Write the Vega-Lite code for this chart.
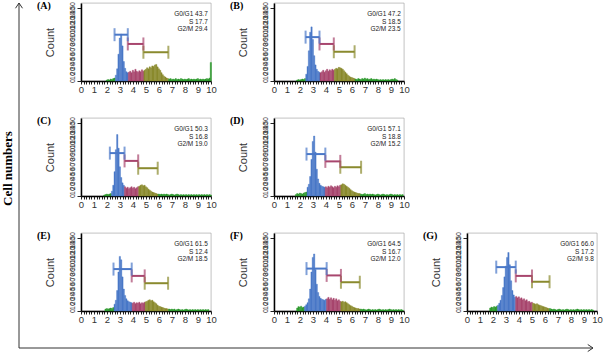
{
"$schema":"https://vega.github.io/schema/vega-lite/v6.json",
"background":"white",
"padding":{"left":1,"top":0,"right":0,"bottom":0},
"config":{
 "view":{"stroke":"#999","strokeWidth":0.6},
 "axis":{"grid":false,"domainColor":"#000","domainWidth":1.5,"tickColor":"#222","labelFont":"Liberation Sans","labelColor":"#333","titleFont":"Liberation Sans","titleFontWeight":"normal","titleColor":"#333"},
 "axisX":{"labelFontSize":9.5,"labelPadding":0,"tickSize":3,"labelFlush":false,"labelOverlap":false,"labelBound":false},
 "axisY":{"labels":false,"tickSize":4,"tickWidth":1,"titleFontSize":11,"titleX":-26},
 "text":{"font":"Liberation Sans"},
 "title":{"anchor":"start","frame":"group","font":"Liberation Serif","fontWeight":"bold","fontSize":10,"color":"#000","dx":-44,"dy":13,"offset":0,"baseline":"middle"}
},
"datasets":{
"ylab":[{"v":0},{"v":10},{"v":20},{"v":30},{"v":40},{"v":50},{"v":60},{"v":70},{"v":80},{"v":90},{"v":100},{"v":110},{"v":120},{"v":130},{"v":140},{"v":150}],
"A":[{"x":1.95,"c":2,"g":"o"},{"x":2.05,"c":3,"g":"o"},{"x":2.15,"c":2,"g":"o"},{"x":2.25,"c":4,"g":"o"},{"x":2.35,"c":3,"g":"o"},{"x":2.45,"c":5,"g":"o"},{"x":2.55,"c":6,"g":"o"},
{"x":2.65,"c":12,"g":"g1"},{"x":2.75,"c":25,"g":"g1"},{"x":2.85,"c":55,"g":"g1"},{"x":2.95,"c":88,"g":"g1"},{"x":3.05,"c":96,"g":"g1"},{"x":3.15,"c":72,"g":"g1"},{"x":3.25,"c":40,"g":"g1"},{"x":3.35,"c":26,"g":"g1"},{"x":3.45,"c":19,"g":"g1"},{"x":3.55,"c":17,"g":"g1"},
{"x":3.65,"c":18,"g":"s"},{"x":3.75,"c":20,"g":"s"},{"x":3.85,"c":17,"g":"s"},{"x":3.95,"c":22,"g":"s"},{"x":4.05,"c":19,"g":"s"},{"x":4.15,"c":24,"g":"s"},{"x":4.25,"c":20,"g":"s"},{"x":4.35,"c":18,"g":"s"},{"x":4.45,"c":21,"g":"s"},{"x":4.55,"c":19,"g":"s"},{"x":4.65,"c":23,"g":"s"},{"x":4.75,"c":20,"g":"s"},
{"x":4.85,"c":22,"g":"g2"},{"x":4.95,"c":24,"g":"g2"},{"x":5.05,"c":27,"g":"g2"},{"x":5.15,"c":25,"g":"g2"},{"x":5.25,"c":29,"g":"g2"},{"x":5.35,"c":27,"g":"g2"},{"x":5.45,"c":31,"g":"g2"},{"x":5.55,"c":30,"g":"g2"},{"x":5.65,"c":33,"g":"g2"},{"x":5.75,"c":34,"g":"g2"},{"x":5.85,"c":29,"g":"g2"},{"x":5.95,"c":25,"g":"g2"},{"x":6.05,"c":22,"g":"g2"},{"x":6.15,"c":17,"g":"g2"},{"x":6.25,"c":13,"g":"g2"},{"x":6.35,"c":10,"g":"g2"},{"x":6.45,"c":8,"g":"g2"},{"x":6.55,"c":6,"g":"g2"},{"x":6.65,"c":5,"g":"g2"},
{"x":6.75,"c":4,"g":"o"},{"x":6.85,"c":5,"g":"o"},{"x":6.95,"c":3,"g":"o"},{"x":7.05,"c":4,"g":"o"},{"x":7.15,"c":3,"g":"o"},{"x":7.25,"c":5,"g":"o"},{"x":7.35,"c":3,"g":"o"},{"x":7.45,"c":4,"g":"o"},{"x":7.55,"c":3,"g":"o"},{"x":7.65,"c":5,"g":"o"},{"x":7.75,"c":4,"g":"o"},{"x":7.85,"c":3,"g":"o"},{"x":7.95,"c":4,"g":"o"},{"x":8.05,"c":3,"g":"o"},{"x":8.15,"c":4,"g":"o"},{"x":8.25,"c":5,"g":"o"},{"x":8.35,"c":3,"g":"o"},{"x":8.45,"c":4,"g":"o"},{"x":8.55,"c":3,"g":"o"},{"x":8.65,"c":4,"g":"o"},{"x":8.75,"c":3,"g":"o"},{"x":8.85,"c":4,"g":"o"},{"x":8.95,"c":5,"g":"o"},{"x":9.05,"c":3,"g":"o"},{"x":9.15,"c":4,"g":"o"},{"x":9.25,"c":3,"g":"o"},{"x":9.35,"c":4,"g":"o"},{"x":9.45,"c":3,"g":"o"},{"x":9.55,"c":4,"g":"o"},{"x":9.65,"c":5,"g":"o"},{"x":9.75,"c":4,"g":"o"},{"x":9.85,"c":6,"g":"o"},{"x":9.95,"c":38,"g":"o"}],
"B":[{"x":1.75,"c":2,"g":"o"},{"x":1.85,"c":3,"g":"o"},{"x":1.95,"c":2,"g":"o"},{"x":2.05,"c":3,"g":"o"},{"x":2.15,"c":4,"g":"o"},{"x":2.25,"c":3,"g":"o"},{"x":2.35,"c":5,"g":"o"},
{"x":2.45,"c":14,"g":"g1"},{"x":2.55,"c":30,"g":"g1"},{"x":2.65,"c":62,"g":"g1"},{"x":2.75,"c":100,"g":"g1"},{"x":2.85,"c":111,"g":"g1"},{"x":2.95,"c":85,"g":"g1"},{"x":3.05,"c":52,"g":"g1"},{"x":3.15,"c":33,"g":"g1"},{"x":3.25,"c":24,"g":"g1"},{"x":3.35,"c":20,"g":"g1"},{"x":3.45,"c":18,"g":"g1"},
{"x":3.55,"c":17,"g":"s"},{"x":3.65,"c":19,"g":"s"},{"x":3.75,"c":22,"g":"s"},{"x":3.85,"c":18,"g":"s"},{"x":3.95,"c":21,"g":"s"},{"x":4.05,"c":24,"g":"s"},{"x":4.15,"c":20,"g":"s"},{"x":4.25,"c":23,"g":"s"},{"x":4.35,"c":21,"g":"s"},{"x":4.45,"c":24,"g":"s"},{"x":4.55,"c":22,"g":"s"},
{"x":4.65,"c":24,"g":"g2"},{"x":4.75,"c":26,"g":"g2"},{"x":4.85,"c":25,"g":"g2"},{"x":4.95,"c":28,"g":"g2"},{"x":5.05,"c":27,"g":"g2"},{"x":5.15,"c":26,"g":"g2"},{"x":5.25,"c":24,"g":"g2"},{"x":5.35,"c":21,"g":"g2"},{"x":5.45,"c":18,"g":"g2"},{"x":5.55,"c":15,"g":"g2"},{"x":5.65,"c":12,"g":"g2"},{"x":5.75,"c":10,"g":"g2"},{"x":5.85,"c":8,"g":"g2"},{"x":5.95,"c":7,"g":"g2"},{"x":6.05,"c":6,"g":"g2"},{"x":6.15,"c":5,"g":"g2"},
{"x":6.25,"c":4,"g":"o"},{"x":6.35,"c":3,"g":"o"},{"x":6.45,"c":5,"g":"o"},{"x":6.55,"c":4,"g":"o"},{"x":6.65,"c":3,"g":"o"},{"x":6.75,"c":5,"g":"o"},{"x":6.85,"c":4,"g":"o"},{"x":6.95,"c":6,"g":"o"},{"x":7.05,"c":4,"g":"o"},{"x":7.15,"c":5,"g":"o"},{"x":7.25,"c":3,"g":"o"},{"x":7.35,"c":4,"g":"o"},{"x":7.45,"c":5,"g":"o"},{"x":7.55,"c":3,"g":"o"},{"x":7.65,"c":4,"g":"o"},{"x":7.75,"c":3,"g":"o"},{"x":7.85,"c":4,"g":"o"},{"x":7.95,"c":3,"g":"o"},{"x":8.05,"c":2,"g":"o"},{"x":8.15,"c":3,"g":"o"},{"x":8.25,"c":2,"g":"o"},{"x":8.35,"c":3,"g":"o"},{"x":8.45,"c":2,"g":"o"},{"x":8.55,"c":3,"g":"o"},{"x":8.65,"c":2,"g":"o"},{"x":8.75,"c":3,"g":"o"},{"x":8.85,"c":2,"g":"o"},{"x":8.95,"c":3,"g":"o"},{"x":9.05,"c":4,"g":"o"},{"x":9.15,"c":3,"g":"o"},{"x":9.25,"c":5,"g":"o"},{"x":9.35,"c":3,"g":"o"},{"x":9.45,"c":2,"g":"o"}],
"C":[{"x":1.75,"c":2,"g":"o"},{"x":1.85,"c":3,"g":"o"},{"x":1.95,"c":4,"g":"o"},{"x":2.05,"c":3,"g":"o"},{"x":2.15,"c":4,"g":"o"},{"x":2.25,"c":5,"g":"o"},
{"x":2.35,"c":10,"g":"g1"},{"x":2.45,"c":22,"g":"g1"},{"x":2.55,"c":50,"g":"g1"},{"x":2.65,"c":95,"g":"g1"},{"x":2.75,"c":126,"g":"g1"},{"x":2.85,"c":98,"g":"g1"},{"x":2.95,"c":60,"g":"g1"},{"x":3.05,"c":38,"g":"g1"},{"x":3.15,"c":27,"g":"g1"},{"x":3.25,"c":22,"g":"g1"},
{"x":3.35,"c":19,"g":"s"},{"x":3.45,"c":16,"g":"s"},{"x":3.55,"c":18,"g":"s"},{"x":3.65,"c":15,"g":"s"},{"x":3.75,"c":17,"g":"s"},{"x":3.85,"c":19,"g":"s"},{"x":3.95,"c":16,"g":"s"},{"x":4.05,"c":18,"g":"s"},{"x":4.15,"c":15,"g":"s"},{"x":4.25,"c":17,"g":"s"},{"x":4.35,"c":19,"g":"s"},
{"x":4.45,"c":20,"g":"g2"},{"x":4.55,"c":22,"g":"g2"},{"x":4.65,"c":23,"g":"g2"},{"x":4.75,"c":21,"g":"g2"},{"x":4.85,"c":22,"g":"g2"},{"x":4.95,"c":19,"g":"g2"},{"x":5.05,"c":17,"g":"g2"},{"x":5.15,"c":14,"g":"g2"},{"x":5.25,"c":12,"g":"g2"},{"x":5.35,"c":10,"g":"g2"},{"x":5.45,"c":8,"g":"g2"},{"x":5.55,"c":7,"g":"g2"},{"x":5.65,"c":6,"g":"g2"},{"x":5.75,"c":5,"g":"g2"},{"x":5.85,"c":4,"g":"g2"},
{"x":5.95,"c":4,"g":"o"},{"x":6.05,"c":3,"g":"o"},{"x":6.15,"c":4,"g":"o"},{"x":6.25,"c":3,"g":"o"},{"x":6.35,"c":4,"g":"o"},{"x":6.45,"c":3,"g":"o"},{"x":6.55,"c":4,"g":"o"},{"x":6.65,"c":3,"g":"o"},{"x":6.75,"c":2,"g":"o"},{"x":6.85,"c":3,"g":"o"},{"x":6.95,"c":4,"g":"o"},{"x":7.05,"c":3,"g":"o"},{"x":7.15,"c":2,"g":"o"},{"x":7.25,"c":3,"g":"o"},{"x":7.35,"c":4,"g":"o"},{"x":7.45,"c":3,"g":"o"},{"x":7.55,"c":2,"g":"o"},{"x":7.65,"c":3,"g":"o"},{"x":7.75,"c":2,"g":"o"},{"x":7.85,"c":3,"g":"o"},{"x":7.95,"c":2,"g":"o"},{"x":8.05,"c":3,"g":"o"},{"x":8.15,"c":2,"g":"o"},{"x":8.25,"c":3,"g":"o"},{"x":8.35,"c":2,"g":"o"},{"x":8.45,"c":3,"g":"o"},{"x":8.55,"c":2,"g":"o"},{"x":8.65,"c":3,"g":"o"},{"x":8.75,"c":2,"g":"o"},{"x":8.85,"c":3,"g":"o"},{"x":8.95,"c":2,"g":"o"},{"x":9.05,"c":3,"g":"o"},{"x":9.15,"c":2,"g":"o"},{"x":9.25,"c":3,"g":"o"},{"x":9.35,"c":2,"g":"o"},{"x":9.45,"c":3,"g":"o"},{"x":9.55,"c":2,"g":"o"},{"x":9.65,"c":3,"g":"o"},{"x":9.75,"c":2,"g":"o"},{"x":9.85,"c":3,"g":"o"},{"x":9.95,"c":2,"g":"o"}],
"D":[{"x":1.65,"c":3,"g":"o"},{"x":1.75,"c":5,"g":"o"},{"x":1.85,"c":4,"g":"o"},{"x":1.95,"c":6,"g":"o"},{"x":2.05,"c":5,"g":"o"},{"x":2.15,"c":4,"g":"o"},{"x":2.25,"c":6,"g":"o"},{"x":2.35,"c":7,"g":"o"},{"x":2.45,"c":8,"g":"o"},
{"x":2.55,"c":18,"g":"g1"},{"x":2.65,"c":24,"g":"g1"},{"x":2.75,"c":40,"g":"g1"},{"x":2.85,"c":75,"g":"g1"},{"x":2.95,"c":112,"g":"g1"},{"x":3.05,"c":123,"g":"g1"},{"x":3.15,"c":90,"g":"g1"},{"x":3.25,"c":55,"g":"g1"},{"x":3.35,"c":35,"g":"g1"},{"x":3.45,"c":26,"g":"g1"},{"x":3.55,"c":22,"g":"g1"},{"x":3.65,"c":20,"g":"g1"},{"x":3.75,"c":19,"g":"g1"},{"x":3.85,"c":18,"g":"g1"},
{"x":3.95,"c":19,"g":"s"},{"x":4.05,"c":17,"g":"s"},{"x":4.15,"c":20,"g":"s"},{"x":4.25,"c":18,"g":"s"},{"x":4.35,"c":21,"g":"s"},{"x":4.45,"c":19,"g":"s"},{"x":4.55,"c":17,"g":"s"},{"x":4.65,"c":20,"g":"s"},{"x":4.75,"c":18,"g":"s"},{"x":4.85,"c":21,"g":"s"},{"x":4.95,"c":19,"g":"s"},{"x":5.05,"c":22,"g":"s"},
{"x":5.15,"c":23,"g":"g2"},{"x":5.25,"c":25,"g":"g2"},{"x":5.35,"c":24,"g":"g2"},{"x":5.45,"c":22,"g":"g2"},{"x":5.55,"c":20,"g":"g2"},{"x":5.65,"c":18,"g":"g2"},{"x":5.75,"c":16,"g":"g2"},{"x":5.85,"c":13,"g":"g2"},{"x":5.95,"c":11,"g":"g2"},{"x":6.05,"c":9,"g":"g2"},{"x":6.15,"c":8,"g":"g2"},{"x":6.25,"c":7,"g":"g2"},{"x":6.35,"c":6,"g":"g2"},{"x":6.45,"c":5,"g":"g2"},{"x":6.55,"c":5,"g":"g2"},
{"x":6.65,"c":4,"g":"o"},{"x":6.75,"c":3,"g":"o"},{"x":6.85,"c":4,"g":"o"},{"x":6.95,"c":5,"g":"o"},{"x":7.05,"c":3,"g":"o"},{"x":7.15,"c":4,"g":"o"},{"x":7.25,"c":3,"g":"o"},{"x":7.35,"c":4,"g":"o"},{"x":7.45,"c":3,"g":"o"},{"x":7.55,"c":4,"g":"o"},{"x":7.65,"c":3,"g":"o"},{"x":7.75,"c":2,"g":"o"},{"x":7.85,"c":3,"g":"o"},{"x":7.95,"c":4,"g":"o"},{"x":8.05,"c":3,"g":"o"},{"x":8.15,"c":2,"g":"o"},{"x":8.25,"c":3,"g":"o"},{"x":8.35,"c":4,"g":"o"},{"x":8.45,"c":3,"g":"o"},{"x":8.55,"c":2,"g":"o"},{"x":8.65,"c":3,"g":"o"},{"x":8.75,"c":2,"g":"o"},{"x":8.85,"c":3,"g":"o"},{"x":8.95,"c":4,"g":"o"},{"x":9.05,"c":3,"g":"o"},{"x":9.15,"c":2,"g":"o"},{"x":9.25,"c":3,"g":"o"},{"x":9.35,"c":2,"g":"o"},{"x":9.45,"c":3,"g":"o"},{"x":9.55,"c":2,"g":"o"},{"x":9.65,"c":3,"g":"o"},{"x":9.75,"c":2,"g":"o"},{"x":9.85,"c":3,"g":"o"}],
"E":[{"x":1.85,"c":4,"g":"o"},{"x":1.95,"c":5,"g":"o"},{"x":2.05,"c":4,"g":"o"},{"x":2.15,"c":5,"g":"o"},{"x":2.25,"c":6,"g":"o"},{"x":2.35,"c":5,"g":"o"},{"x":2.45,"c":7,"g":"o"},
{"x":2.55,"c":14,"g":"g1"},{"x":2.65,"c":22,"g":"g1"},{"x":2.75,"c":42,"g":"g1"},{"x":2.85,"c":80,"g":"g1"},{"x":2.95,"c":112,"g":"g1"},{"x":3.05,"c":105,"g":"g1"},{"x":3.15,"c":70,"g":"g1"},{"x":3.25,"c":45,"g":"g1"},{"x":3.35,"c":32,"g":"g1"},{"x":3.45,"c":25,"g":"g1"},{"x":3.55,"c":21,"g":"g1"},{"x":3.65,"c":19,"g":"g1"},{"x":3.75,"c":18,"g":"g1"},{"x":3.85,"c":17,"g":"g1"},
{"x":3.95,"c":16,"g":"s"},{"x":4.05,"c":18,"g":"s"},{"x":4.15,"c":15,"g":"s"},{"x":4.25,"c":17,"g":"s"},{"x":4.35,"c":16,"g":"s"},{"x":4.45,"c":18,"g":"s"},{"x":4.55,"c":15,"g":"s"},{"x":4.65,"c":17,"g":"s"},{"x":4.75,"c":16,"g":"s"},{"x":4.85,"c":18,"g":"s"},
{"x":4.95,"c":19,"g":"g2"},{"x":5.05,"c":20,"g":"g2"},{"x":5.15,"c":22,"g":"g2"},{"x":5.25,"c":23,"g":"g2"},{"x":5.35,"c":21,"g":"g2"},{"x":5.45,"c":22,"g":"g2"},{"x":5.55,"c":19,"g":"g2"},{"x":5.65,"c":17,"g":"g2"},{"x":5.75,"c":15,"g":"g2"},{"x":5.85,"c":12,"g":"g2"},{"x":5.95,"c":10,"g":"g2"},{"x":6.05,"c":9,"g":"g2"},{"x":6.15,"c":8,"g":"g2"},{"x":6.25,"c":7,"g":"g2"},{"x":6.35,"c":6,"g":"g2"},{"x":6.45,"c":5,"g":"g2"},{"x":6.55,"c":5,"g":"g2"},{"x":6.65,"c":4,"g":"g2"},
{"x":6.75,"c":4,"g":"o"},{"x":6.85,"c":3,"g":"o"},{"x":6.95,"c":4,"g":"o"},{"x":7.05,"c":3,"g":"o"},{"x":7.15,"c":4,"g":"o"},{"x":7.25,"c":2,"g":"o"},{"x":7.35,"c":3,"g":"o"},{"x":7.45,"c":4,"g":"o"},{"x":7.55,"c":3,"g":"o"},{"x":7.65,"c":2,"g":"o"},{"x":7.75,"c":3,"g":"o"},{"x":7.85,"c":2,"g":"o"},{"x":7.95,"c":3,"g":"o"},{"x":8.05,"c":4,"g":"o"},{"x":8.15,"c":3,"g":"o"},{"x":8.25,"c":2,"g":"o"},{"x":8.35,"c":3,"g":"o"},{"x":8.45,"c":2,"g":"o"},{"x":8.55,"c":3,"g":"o"},{"x":8.65,"c":2,"g":"o"},{"x":8.75,"c":3,"g":"o"},{"x":8.85,"c":2,"g":"o"},{"x":8.95,"c":3,"g":"o"},{"x":9.05,"c":2,"g":"o"},{"x":9.15,"c":3,"g":"o"},{"x":9.25,"c":2,"g":"o"},{"x":9.35,"c":3,"g":"o"},{"x":9.45,"c":2,"g":"o"},{"x":9.55,"c":3,"g":"o"},{"x":9.65,"c":2,"g":"o"},{"x":9.75,"c":3,"g":"o"}],
"F":[{"x":1.75,"c":6,"g":"o"},{"x":1.85,"c":9,"g":"o"},{"x":1.95,"c":8,"g":"o"},{"x":2.05,"c":10,"g":"o"},{"x":2.15,"c":7,"g":"o"},{"x":2.25,"c":8,"g":"o"},
{"x":2.35,"c":10,"g":"g1"},{"x":2.45,"c":13,"g":"g1"},{"x":2.55,"c":17,"g":"g1"},{"x":2.65,"c":25,"g":"g1"},{"x":2.75,"c":45,"g":"g1"},{"x":2.85,"c":80,"g":"g1"},{"x":2.95,"c":110,"g":"g1"},{"x":3.05,"c":117,"g":"g1"},{"x":3.15,"c":85,"g":"g1"},{"x":3.25,"c":55,"g":"g1"},{"x":3.35,"c":38,"g":"g1"},{"x":3.45,"c":30,"g":"g1"},{"x":3.55,"c":26,"g":"g1"},{"x":3.65,"c":24,"g":"g1"},{"x":3.75,"c":23,"g":"g1"},{"x":3.85,"c":22,"g":"g1"},{"x":3.95,"c":24,"g":"g1"},
{"x":4.05,"c":25,"g":"s"},{"x":4.15,"c":28,"g":"s"},{"x":4.25,"c":24,"g":"s"},{"x":4.35,"c":27,"g":"s"},{"x":4.45,"c":23,"g":"s"},{"x":4.55,"c":26,"g":"s"},{"x":4.65,"c":22,"g":"s"},{"x":4.75,"c":25,"g":"s"},{"x":4.85,"c":21,"g":"s"},{"x":4.95,"c":23,"g":"s"},{"x":5.05,"c":20,"g":"s"},
{"x":5.15,"c":19,"g":"g2"},{"x":5.25,"c":20,"g":"g2"},{"x":5.35,"c":18,"g":"g2"},{"x":5.45,"c":19,"g":"g2"},{"x":5.55,"c":17,"g":"g2"},{"x":5.65,"c":15,"g":"g2"},{"x":5.75,"c":13,"g":"g2"},{"x":5.85,"c":11,"g":"g2"},{"x":5.95,"c":10,"g":"g2"},{"x":6.05,"c":8,"g":"g2"},{"x":6.15,"c":7,"g":"g2"},{"x":6.25,"c":6,"g":"g2"},{"x":6.35,"c":5,"g":"g2"},{"x":6.45,"c":5,"g":"g2"},{"x":6.55,"c":4,"g":"g2"},
{"x":6.65,"c":4,"g":"o"},{"x":6.75,"c":3,"g":"o"},{"x":6.85,"c":4,"g":"o"},{"x":6.95,"c":3,"g":"o"},{"x":7.05,"c":2,"g":"o"},{"x":7.15,"c":3,"g":"o"},{"x":7.25,"c":4,"g":"o"},{"x":7.35,"c":3,"g":"o"},{"x":7.45,"c":2,"g":"o"},{"x":7.55,"c":3,"g":"o"},{"x":7.65,"c":2,"g":"o"},{"x":7.75,"c":3,"g":"o"},{"x":7.85,"c":2,"g":"o"},{"x":7.95,"c":3,"g":"o"},{"x":8.05,"c":4,"g":"o"},{"x":8.15,"c":3,"g":"o"},{"x":8.25,"c":2,"g":"o"},{"x":8.35,"c":3,"g":"o"},{"x":8.45,"c":2,"g":"o"},{"x":8.55,"c":3,"g":"o"},{"x":8.65,"c":2,"g":"o"},{"x":8.75,"c":3,"g":"o"},{"x":8.85,"c":4,"g":"o"},{"x":8.95,"c":3,"g":"o"},{"x":9.05,"c":2,"g":"o"},{"x":9.15,"c":3,"g":"o"},{"x":9.25,"c":2,"g":"o"},{"x":9.35,"c":3,"g":"o"},{"x":9.45,"c":2,"g":"o"},{"x":9.55,"c":3,"g":"o"},{"x":9.65,"c":2,"g":"o"},{"x":9.75,"c":3,"g":"o"},{"x":9.85,"c":2,"g":"o"}],
"G":[{"x":1.75,"c":6,"g":"o"},{"x":1.85,"c":8,"g":"o"},{"x":1.95,"c":7,"g":"o"},{"x":2.05,"c":9,"g":"o"},{"x":2.15,"c":8,"g":"o"},{"x":2.25,"c":10,"g":"o"},
{"x":2.35,"c":12,"g":"g1"},{"x":2.45,"c":16,"g":"g1"},{"x":2.55,"c":22,"g":"g1"},{"x":2.65,"c":32,"g":"g1"},{"x":2.75,"c":48,"g":"g1"},{"x":2.85,"c":70,"g":"g1"},{"x":2.95,"c":92,"g":"g1"},{"x":3.05,"c":110,"g":"g1"},{"x":3.15,"c":120,"g":"g1"},{"x":3.25,"c":95,"g":"g1"},{"x":3.35,"c":62,"g":"g1"},{"x":3.45,"c":42,"g":"g1"},{"x":3.55,"c":33,"g":"g1"},{"x":3.65,"c":28,"g":"g1"},
{"x":3.75,"c":30,"g":"s"},{"x":3.85,"c":27,"g":"s"},{"x":3.95,"c":29,"g":"s"},{"x":4.05,"c":25,"g":"s"},{"x":4.15,"c":27,"g":"s"},{"x":4.25,"c":23,"g":"s"},{"x":4.35,"c":25,"g":"s"},{"x":4.45,"c":21,"g":"s"},{"x":4.55,"c":23,"g":"s"},{"x":4.65,"c":19,"g":"s"},{"x":4.75,"c":20,"g":"s"},{"x":4.85,"c":17,"g":"s"},{"x":4.95,"c":18,"g":"s"},
{"x":5.05,"c":16,"g":"g2"},{"x":5.15,"c":15,"g":"g2"},{"x":5.25,"c":14,"g":"g2"},{"x":5.35,"c":15,"g":"g2"},{"x":5.45,"c":13,"g":"g2"},{"x":5.55,"c":12,"g":"g2"},{"x":5.65,"c":11,"g":"g2"},{"x":5.75,"c":10,"g":"g2"},{"x":5.85,"c":9,"g":"g2"},{"x":5.95,"c":8,"g":"g2"},{"x":6.05,"c":7,"g":"g2"},{"x":6.15,"c":6,"g":"g2"},{"x":6.25,"c":5,"g":"g2"},
{"x":6.35,"c":5,"g":"o"},{"x":6.45,"c":4,"g":"o"},{"x":6.55,"c":3,"g":"o"},{"x":6.65,"c":4,"g":"o"},{"x":6.75,"c":3,"g":"o"},{"x":6.85,"c":2,"g":"o"},{"x":6.95,"c":3,"g":"o"},{"x":7.05,"c":4,"g":"o"},{"x":7.15,"c":3,"g":"o"},{"x":7.25,"c":2,"g":"o"},{"x":7.35,"c":3,"g":"o"},{"x":7.45,"c":2,"g":"o"},{"x":7.55,"c":3,"g":"o"},{"x":7.65,"c":4,"g":"o"},{"x":7.75,"c":3,"g":"o"},{"x":7.85,"c":2,"g":"o"},{"x":7.95,"c":3,"g":"o"},{"x":8.05,"c":2,"g":"o"},{"x":8.15,"c":3,"g":"o"},{"x":8.25,"c":2,"g":"o"},{"x":8.35,"c":3,"g":"o"},{"x":8.45,"c":4,"g":"o"},{"x":8.55,"c":3,"g":"o"},{"x":8.65,"c":2,"g":"o"},{"x":8.75,"c":3,"g":"o"},{"x":8.85,"c":2,"g":"o"},{"x":8.95,"c":3,"g":"o"},{"x":9.05,"c":2,"g":"o"},{"x":9.15,"c":3,"g":"o"},{"x":9.25,"c":2,"g":"o"},{"x":9.35,"c":3,"g":"o"},{"x":9.45,"c":2,"g":"o"},{"x":9.55,"c":3,"g":"o"},{"x":9.65,"c":2,"g":"o"}],
"gates":[
{"p":"A","g":"g1","a":2.58,"b":3.6,"y":95},{"p":"A","g":"s","a":3.6,"b":4.8,"y":76},{"p":"A","g":"g2","a":4.8,"b":6.72,"y":59},
{"p":"B","g":"g1","a":2.43,"b":3.5,"y":90},{"p":"B","g":"s","a":3.5,"b":4.6,"y":76},{"p":"B","g":"g2","a":4.6,"b":6.2,"y":60},
{"p":"C","g":"g1","a":2.22,"b":3.35,"y":88},{"p":"C","g":"s","a":3.35,"b":4.4,"y":72},{"p":"C","g":"g2","a":4.4,"b":5.9,"y":57},
{"p":"D","g":"g1","a":2.5,"b":3.95,"y":86},{"p":"D","g":"s","a":3.95,"b":5.1,"y":71},{"p":"D","g":"g2","a":5.1,"b":6.7,"y":59},
{"p":"E","g":"g1","a":2.5,"b":3.9,"y":86},{"p":"E","g":"s","a":3.9,"b":4.9,"y":72},{"p":"E","g":"g2","a":4.9,"b":6.7,"y":57},
{"p":"F","g":"g1","a":2.5,"b":4.05,"y":87},{"p":"F","g":"s","a":4.05,"b":5.15,"y":73},{"p":"F","g":"g2","a":5.15,"b":6.6,"y":59},
{"p":"G","g":"g1","a":2.25,"b":3.75,"y":90},{"p":"G","g":"s","a":3.75,"b":5.0,"y":72},{"p":"G","g":"g2","a":5.0,"b":6.35,"y":60}],
"labels":[
{"p":"A","t":"G0/G1 43.7","x":9.75,"y":137},{"p":"A","t":"S 17.7","x":9.75,"y":122},{"p":"A","t":"G2/M 29.4","x":9.75,"y":107},
{"p":"B","t":"G0/G1 47.2","x":9.75,"y":137},{"p":"B","t":"S 18.5","x":9.75,"y":122},{"p":"B","t":"G2/M 23.5","x":9.75,"y":107},
{"p":"C","t":"G0/G1 50.3","x":9.75,"y":137},{"p":"C","t":"S 16.8","x":9.75,"y":122},{"p":"C","t":"G2/M 19.0","x":9.75,"y":107},
{"p":"D","t":"G0/G1 57.1","x":9.75,"y":137},{"p":"D","t":"S 18.8","x":9.75,"y":122},{"p":"D","t":"G2/M 15.2","x":9.75,"y":107},
{"p":"E","t":"G0/G1 61.5","x":9.75,"y":137},{"p":"E","t":"S 12.4","x":9.75,"y":122},{"p":"E","t":"G2/M 18.5","x":9.75,"y":107},
{"p":"F","t":"G0/G1 64.5","x":9.75,"y":137},{"p":"F","t":"S 16.7","x":9.75,"y":122},{"p":"F","t":"G2/M 12.0","x":9.75,"y":107},
{"p":"G","t":"G0/G1 66.0","x":9.75,"y":137},{"p":"G","t":"S 17.2","x":9.75,"y":122},{"p":"G","t":"G2/M 9.8","x":9.75,"y":107}]
},
"vconcat":[
{"hconcat":[
 {"width":10,"height":345,"view":{"stroke":null},"layer":[
  {"data":{"values":[{"x":0,"y":0,"y2":1}]},"mark":{"type":"rule","color":"#333","strokeWidth":1},
   "encoding":{"x":{"field":"x","type":"quantitative","scale":{"domain":[0,1]},"axis":null},
    "y":{"field":"y","type":"quantitative","scale":{"domain":[0,1]},"axis":{"title":"Cell numbers","domain":false,"ticks":false,"labels":false,"titleFont":"Liberation Serif","titleFontWeight":"bold","titleFontSize":13,"titleColor":"#000","titleX":-5,"titleY":165}},
    "y2":{"field":"y2"}}},
  {"data":{"values":[{"x":0,"y":1}]},"mark":{"type":"point","shape":"M -1 1.5 L 0 0 L 1 1.5","filled":false,"size":49,"color":"#333","strokeWidth":1,"opacity":1},
   "encoding":{"x":{"field":"x","type":"quantitative"},"y":{"field":"y","type":"quantitative"}}}
 ]},
 {"vconcat":[
  {"hconcat":[
   {"width":130,"height":78,"title":"(A)","layer":[
    {"data":{"name":"A"},"mark":{"type":"bar","binSpacing":0,"strokeWidth":0.4},"encoding":{"x":{"field":"x","type":"quantitative","bin":{"extent":[0,10],"step":0.1},"scale":{"domain":[0,10]},"axis":{"title":null,"values":[0,0.2,0.4,0.6,0.8,1,1.2,1.4,1.6,1.8,2,2.2,2.4,2.6,2.8,3,3.2,3.4,3.6,3.8,4,4.2,4.4,4.6,4.8,5,5.2,5.4,5.6,5.8,6,6.2,6.4,6.6,6.8,7,7.2,7.4,7.6,7.8,8,8.2,8.4,8.6,8.8,9,9.2,9.4,9.6,9.8,10],"labelExpr":"datum.value % 1 == 0 ? format(datum.value,'d') : ''"}},"y":{"aggregate":"sum","field":"c","type":"quantitative","scale":{"domain":[0,150]},"axis":{"title":"Count","values":[0,5,10,15,20,25,30,35,40,45,50,55,60,65,70,75,80,85,90,95,100,105,110,115,120,125,130,135,140,145,150]}},"color":{"field":"g","type":"nominal","scale":{"domain":["o","g1","s","g2"],"range":["#2E9A2E","#4A78C8","#A8466E","#8A8A2E"]},"legend":null},"stroke":{"field":"g","type":"nominal","scale":{"domain":["o","g1","s","g2"],"range":["#2E9A2E","#4A78C8","#A8466E","#8A8A2E"]},"legend":null}}},
    {"data":{"name":"gates"},"transform":[{"filter":"datum.p=='A'"}],"mark":{"type":"rule","strokeWidth":2},"encoding":{"x":{"field":"a","type":"quantitative"},"x2":{"field":"b"},"y":{"field":"y","type":"quantitative"},"color":{"field":"g","type":"nominal"}}},
    {"data":{"name":"gates"},"transform":[{"filter":"datum.p=='A'"}],"mark":{"type":"tick","orient":"vertical","size":13,"thickness":2},"encoding":{"x":{"field":"a","type":"quantitative"},"y":{"field":"y","type":"quantitative"},"color":{"field":"g","type":"nominal"}}},
    {"data":{"name":"gates"},"transform":[{"filter":"datum.p=='A'"}],"mark":{"type":"tick","orient":"vertical","size":13,"thickness":2},"encoding":{"x":{"field":"b","type":"quantitative"},"y":{"field":"y","type":"quantitative"},"color":{"field":"g","type":"nominal"}}},
    {"data":{"name":"labels"},"transform":[{"filter":"datum.p=='A'"}],"mark":{"type":"text","align":"right","fontSize":6.5,"color":"#222"},"encoding":{"x":{"field":"x","type":"quantitative"},"y":{"field":"y","type":"quantitative"},"text":{"field":"t"}}},
    {"data":{"name":"ylab"},"mark":{"type":"text","angle":270,"align":"center","baseline":"bottom","dy":-5,"fontSize":7,"color":"#333"},"encoding":{"x":{"datum":0,"type":"quantitative"},"y":{"field":"v","type":"quantitative"},"text":{"field":"v","type":"quantitative"}}}
   ]},
   {"width":130,"height":78,"title":"(B)","layer":[
    {"data":{"name":"B"},"mark":{"type":"bar","binSpacing":0,"strokeWidth":0.4},"encoding":{"x":{"field":"x","type":"quantitative","bin":{"extent":[0,10],"step":0.1},"scale":{"domain":[0,10]},"axis":{"title":null,"values":[0,0.2,0.4,0.6,0.8,1,1.2,1.4,1.6,1.8,2,2.2,2.4,2.6,2.8,3,3.2,3.4,3.6,3.8,4,4.2,4.4,4.6,4.8,5,5.2,5.4,5.6,5.8,6,6.2,6.4,6.6,6.8,7,7.2,7.4,7.6,7.8,8,8.2,8.4,8.6,8.8,9,9.2,9.4,9.6,9.8,10],"labelExpr":"datum.value % 1 == 0 ? format(datum.value,'d') : ''"}},"y":{"aggregate":"sum","field":"c","type":"quantitative","scale":{"domain":[0,150]},"axis":{"title":"Count","values":[0,5,10,15,20,25,30,35,40,45,50,55,60,65,70,75,80,85,90,95,100,105,110,115,120,125,130,135,140,145,150]}},"color":{"field":"g","type":"nominal","scale":{"domain":["o","g1","s","g2"],"range":["#2E9A2E","#4A78C8","#A8466E","#8A8A2E"]},"legend":null},"stroke":{"field":"g","type":"nominal","scale":{"domain":["o","g1","s","g2"],"range":["#2E9A2E","#4A78C8","#A8466E","#8A8A2E"]},"legend":null}}},
    {"data":{"name":"gates"},"transform":[{"filter":"datum.p=='B'"}],"mark":{"type":"rule","strokeWidth":2},"encoding":{"x":{"field":"a","type":"quantitative"},"x2":{"field":"b"},"y":{"field":"y","type":"quantitative"},"color":{"field":"g","type":"nominal"}}},
    {"data":{"name":"gates"},"transform":[{"filter":"datum.p=='B'"}],"mark":{"type":"tick","orient":"vertical","size":13,"thickness":2},"encoding":{"x":{"field":"a","type":"quantitative"},"y":{"field":"y","type":"quantitative"},"color":{"field":"g","type":"nominal"}}},
    {"data":{"name":"gates"},"transform":[{"filter":"datum.p=='B'"}],"mark":{"type":"tick","orient":"vertical","size":13,"thickness":2},"encoding":{"x":{"field":"b","type":"quantitative"},"y":{"field":"y","type":"quantitative"},"color":{"field":"g","type":"nominal"}}},
    {"data":{"name":"labels"},"transform":[{"filter":"datum.p=='B'"}],"mark":{"type":"text","align":"right","fontSize":6.5,"color":"#222"},"encoding":{"x":{"field":"x","type":"quantitative"},"y":{"field":"y","type":"quantitative"},"text":{"field":"t"}}},
    {"data":{"name":"ylab"},"mark":{"type":"text","angle":270,"align":"center","baseline":"bottom","dy":-5,"fontSize":7,"color":"#333"},"encoding":{"x":{"datum":0,"type":"quantitative"},"y":{"field":"v","type":"quantitative"},"text":{"field":"v","type":"quantitative"}}}
   ]}
  ],"bounds":"flush","spacing":63},
  {"hconcat":[
   {"width":130,"height":78,"title":"(C)","layer":[
    {"data":{"name":"C"},"mark":{"type":"bar","binSpacing":0,"strokeWidth":0.4},"encoding":{"x":{"field":"x","type":"quantitative","bin":{"extent":[0,10],"step":0.1},"scale":{"domain":[0,10]},"axis":{"title":null,"values":[0,0.2,0.4,0.6,0.8,1,1.2,1.4,1.6,1.8,2,2.2,2.4,2.6,2.8,3,3.2,3.4,3.6,3.8,4,4.2,4.4,4.6,4.8,5,5.2,5.4,5.6,5.8,6,6.2,6.4,6.6,6.8,7,7.2,7.4,7.6,7.8,8,8.2,8.4,8.6,8.8,9,9.2,9.4,9.6,9.8,10],"labelExpr":"datum.value % 1 == 0 ? format(datum.value,'d') : ''"}},"y":{"aggregate":"sum","field":"c","type":"quantitative","scale":{"domain":[0,150]},"axis":{"title":"Count","values":[0,5,10,15,20,25,30,35,40,45,50,55,60,65,70,75,80,85,90,95,100,105,110,115,120,125,130,135,140,145,150]}},"color":{"field":"g","type":"nominal","scale":{"domain":["o","g1","s","g2"],"range":["#2E9A2E","#4A78C8","#A8466E","#8A8A2E"]},"legend":null},"stroke":{"field":"g","type":"nominal","scale":{"domain":["o","g1","s","g2"],"range":["#2E9A2E","#4A78C8","#A8466E","#8A8A2E"]},"legend":null}}},
    {"data":{"name":"gates"},"transform":[{"filter":"datum.p=='C'"}],"mark":{"type":"rule","strokeWidth":2},"encoding":{"x":{"field":"a","type":"quantitative"},"x2":{"field":"b"},"y":{"field":"y","type":"quantitative"},"color":{"field":"g","type":"nominal"}}},
    {"data":{"name":"gates"},"transform":[{"filter":"datum.p=='C'"}],"mark":{"type":"tick","orient":"vertical","size":13,"thickness":2},"encoding":{"x":{"field":"a","type":"quantitative"},"y":{"field":"y","type":"quantitative"},"color":{"field":"g","type":"nominal"}}},
    {"data":{"name":"gates"},"transform":[{"filter":"datum.p=='C'"}],"mark":{"type":"tick","orient":"vertical","size":13,"thickness":2},"encoding":{"x":{"field":"b","type":"quantitative"},"y":{"field":"y","type":"quantitative"},"color":{"field":"g","type":"nominal"}}},
    {"data":{"name":"labels"},"transform":[{"filter":"datum.p=='C'"}],"mark":{"type":"text","align":"right","fontSize":6.5,"color":"#222"},"encoding":{"x":{"field":"x","type":"quantitative"},"y":{"field":"y","type":"quantitative"},"text":{"field":"t"}}},
    {"data":{"name":"ylab"},"mark":{"type":"text","angle":270,"align":"center","baseline":"bottom","dy":-5,"fontSize":7,"color":"#333"},"encoding":{"x":{"datum":0,"type":"quantitative"},"y":{"field":"v","type":"quantitative"},"text":{"field":"v","type":"quantitative"}}}
   ]},
   {"width":130,"height":78,"title":"(D)","layer":[
    {"data":{"name":"D"},"mark":{"type":"bar","binSpacing":0,"strokeWidth":0.4},"encoding":{"x":{"field":"x","type":"quantitative","bin":{"extent":[0,10],"step":0.1},"scale":{"domain":[0,10]},"axis":{"title":null,"values":[0,0.2,0.4,0.6,0.8,1,1.2,1.4,1.6,1.8,2,2.2,2.4,2.6,2.8,3,3.2,3.4,3.6,3.8,4,4.2,4.4,4.6,4.8,5,5.2,5.4,5.6,5.8,6,6.2,6.4,6.6,6.8,7,7.2,7.4,7.6,7.8,8,8.2,8.4,8.6,8.8,9,9.2,9.4,9.6,9.8,10],"labelExpr":"datum.value % 1 == 0 ? format(datum.value,'d') : ''"}},"y":{"aggregate":"sum","field":"c","type":"quantitative","scale":{"domain":[0,150]},"axis":{"title":"Count","values":[0,5,10,15,20,25,30,35,40,45,50,55,60,65,70,75,80,85,90,95,100,105,110,115,120,125,130,135,140,145,150]}},"color":{"field":"g","type":"nominal","scale":{"domain":["o","g1","s","g2"],"range":["#2E9A2E","#4A78C8","#A8466E","#8A8A2E"]},"legend":null},"stroke":{"field":"g","type":"nominal","scale":{"domain":["o","g1","s","g2"],"range":["#2E9A2E","#4A78C8","#A8466E","#8A8A2E"]},"legend":null}}},
    {"data":{"name":"gates"},"transform":[{"filter":"datum.p=='D'"}],"mark":{"type":"rule","strokeWidth":2},"encoding":{"x":{"field":"a","type":"quantitative"},"x2":{"field":"b"},"y":{"field":"y","type":"quantitative"},"color":{"field":"g","type":"nominal"}}},
    {"data":{"name":"gates"},"transform":[{"filter":"datum.p=='D'"}],"mark":{"type":"tick","orient":"vertical","size":13,"thickness":2},"encoding":{"x":{"field":"a","type":"quantitative"},"y":{"field":"y","type":"quantitative"},"color":{"field":"g","type":"nominal"}}},
    {"data":{"name":"gates"},"transform":[{"filter":"datum.p=='D'"}],"mark":{"type":"tick","orient":"vertical","size":13,"thickness":2},"encoding":{"x":{"field":"b","type":"quantitative"},"y":{"field":"y","type":"quantitative"},"color":{"field":"g","type":"nominal"}}},
    {"data":{"name":"labels"},"transform":[{"filter":"datum.p=='D'"}],"mark":{"type":"text","align":"right","fontSize":6.5,"color":"#222"},"encoding":{"x":{"field":"x","type":"quantitative"},"y":{"field":"y","type":"quantitative"},"text":{"field":"t"}}},
    {"data":{"name":"ylab"},"mark":{"type":"text","angle":270,"align":"center","baseline":"bottom","dy":-5,"fontSize":7,"color":"#333"},"encoding":{"x":{"datum":0,"type":"quantitative"},"y":{"field":"v","type":"quantitative"},"text":{"field":"v","type":"quantitative"}}}
   ]}
  ],"bounds":"flush","spacing":63},
  {"hconcat":[
   {"width":130,"height":78,"title":"(E)","layer":[
    {"data":{"name":"E"},"mark":{"type":"bar","binSpacing":0,"strokeWidth":0.4},"encoding":{"x":{"field":"x","type":"quantitative","bin":{"extent":[0,10],"step":0.1},"scale":{"domain":[0,10]},"axis":{"title":null,"values":[0,0.2,0.4,0.6,0.8,1,1.2,1.4,1.6,1.8,2,2.2,2.4,2.6,2.8,3,3.2,3.4,3.6,3.8,4,4.2,4.4,4.6,4.8,5,5.2,5.4,5.6,5.8,6,6.2,6.4,6.6,6.8,7,7.2,7.4,7.6,7.8,8,8.2,8.4,8.6,8.8,9,9.2,9.4,9.6,9.8,10],"labelExpr":"datum.value % 1 == 0 ? format(datum.value,'d') : ''"}},"y":{"aggregate":"sum","field":"c","type":"quantitative","scale":{"domain":[0,150]},"axis":{"title":"Count","values":[0,5,10,15,20,25,30,35,40,45,50,55,60,65,70,75,80,85,90,95,100,105,110,115,120,125,130,135,140,145,150]}},"color":{"field":"g","type":"nominal","scale":{"domain":["o","g1","s","g2"],"range":["#2E9A2E","#4A78C8","#A8466E","#8A8A2E"]},"legend":null},"stroke":{"field":"g","type":"nominal","scale":{"domain":["o","g1","s","g2"],"range":["#2E9A2E","#4A78C8","#A8466E","#8A8A2E"]},"legend":null}}},
    {"data":{"name":"gates"},"transform":[{"filter":"datum.p=='E'"}],"mark":{"type":"rule","strokeWidth":2},"encoding":{"x":{"field":"a","type":"quantitative"},"x2":{"field":"b"},"y":{"field":"y","type":"quantitative"},"color":{"field":"g","type":"nominal"}}},
    {"data":{"name":"gates"},"transform":[{"filter":"datum.p=='E'"}],"mark":{"type":"tick","orient":"vertical","size":13,"thickness":2},"encoding":{"x":{"field":"a","type":"quantitative"},"y":{"field":"y","type":"quantitative"},"color":{"field":"g","type":"nominal"}}},
    {"data":{"name":"gates"},"transform":[{"filter":"datum.p=='E'"}],"mark":{"type":"tick","orient":"vertical","size":13,"thickness":2},"encoding":{"x":{"field":"b","type":"quantitative"},"y":{"field":"y","type":"quantitative"},"color":{"field":"g","type":"nominal"}}},
    {"data":{"name":"labels"},"transform":[{"filter":"datum.p=='E'"}],"mark":{"type":"text","align":"right","fontSize":6.5,"color":"#222"},"encoding":{"x":{"field":"x","type":"quantitative"},"y":{"field":"y","type":"quantitative"},"text":{"field":"t"}}},
    {"data":{"name":"ylab"},"mark":{"type":"text","angle":270,"align":"center","baseline":"bottom","dy":-5,"fontSize":7,"color":"#333"},"encoding":{"x":{"datum":0,"type":"quantitative"},"y":{"field":"v","type":"quantitative"},"text":{"field":"v","type":"quantitative"}}}
   ]},
   {"width":130,"height":78,"title":"(F)","layer":[
    {"data":{"name":"F"},"mark":{"type":"bar","binSpacing":0,"strokeWidth":0.4},"encoding":{"x":{"field":"x","type":"quantitative","bin":{"extent":[0,10],"step":0.1},"scale":{"domain":[0,10]},"axis":{"title":null,"values":[0,0.2,0.4,0.6,0.8,1,1.2,1.4,1.6,1.8,2,2.2,2.4,2.6,2.8,3,3.2,3.4,3.6,3.8,4,4.2,4.4,4.6,4.8,5,5.2,5.4,5.6,5.8,6,6.2,6.4,6.6,6.8,7,7.2,7.4,7.6,7.8,8,8.2,8.4,8.6,8.8,9,9.2,9.4,9.6,9.8,10],"labelExpr":"datum.value % 1 == 0 ? format(datum.value,'d') : ''"}},"y":{"aggregate":"sum","field":"c","type":"quantitative","scale":{"domain":[0,150]},"axis":{"title":"Count","values":[0,5,10,15,20,25,30,35,40,45,50,55,60,65,70,75,80,85,90,95,100,105,110,115,120,125,130,135,140,145,150]}},"color":{"field":"g","type":"nominal","scale":{"domain":["o","g1","s","g2"],"range":["#2E9A2E","#4A78C8","#A8466E","#8A8A2E"]},"legend":null},"stroke":{"field":"g","type":"nominal","scale":{"domain":["o","g1","s","g2"],"range":["#2E9A2E","#4A78C8","#A8466E","#8A8A2E"]},"legend":null}}},
    {"data":{"name":"gates"},"transform":[{"filter":"datum.p=='F'"}],"mark":{"type":"rule","strokeWidth":2},"encoding":{"x":{"field":"a","type":"quantitative"},"x2":{"field":"b"},"y":{"field":"y","type":"quantitative"},"color":{"field":"g","type":"nominal"}}},
    {"data":{"name":"gates"},"transform":[{"filter":"datum.p=='F'"}],"mark":{"type":"tick","orient":"vertical","size":13,"thickness":2},"encoding":{"x":{"field":"a","type":"quantitative"},"y":{"field":"y","type":"quantitative"},"color":{"field":"g","type":"nominal"}}},
    {"data":{"name":"gates"},"transform":[{"filter":"datum.p=='F'"}],"mark":{"type":"tick","orient":"vertical","size":13,"thickness":2},"encoding":{"x":{"field":"b","type":"quantitative"},"y":{"field":"y","type":"quantitative"},"color":{"field":"g","type":"nominal"}}},
    {"data":{"name":"labels"},"transform":[{"filter":"datum.p=='F'"}],"mark":{"type":"text","align":"right","fontSize":6.5,"color":"#222"},"encoding":{"x":{"field":"x","type":"quantitative"},"y":{"field":"y","type":"quantitative"},"text":{"field":"t"}}},
    {"data":{"name":"ylab"},"mark":{"type":"text","angle":270,"align":"center","baseline":"bottom","dy":-5,"fontSize":7,"color":"#333"},"encoding":{"x":{"datum":0,"type":"quantitative"},"y":{"field":"v","type":"quantitative"},"text":{"field":"v","type":"quantitative"}}}
   ]},
   {"width":130,"height":78,"title":"(G)","layer":[
    {"data":{"name":"G"},"mark":{"type":"bar","binSpacing":0,"strokeWidth":0.4},"encoding":{"x":{"field":"x","type":"quantitative","bin":{"extent":[0,10],"step":0.1},"scale":{"domain":[0,10]},"axis":{"title":null,"values":[0,0.2,0.4,0.6,0.8,1,1.2,1.4,1.6,1.8,2,2.2,2.4,2.6,2.8,3,3.2,3.4,3.6,3.8,4,4.2,4.4,4.6,4.8,5,5.2,5.4,5.6,5.8,6,6.2,6.4,6.6,6.8,7,7.2,7.4,7.6,7.8,8,8.2,8.4,8.6,8.8,9,9.2,9.4,9.6,9.8,10],"labelExpr":"datum.value % 1 == 0 ? format(datum.value,'d') : ''"}},"y":{"aggregate":"sum","field":"c","type":"quantitative","scale":{"domain":[0,150]},"axis":{"title":"Count","values":[0,5,10,15,20,25,30,35,40,45,50,55,60,65,70,75,80,85,90,95,100,105,110,115,120,125,130,135,140,145,150]}},"color":{"field":"g","type":"nominal","scale":{"domain":["o","g1","s","g2"],"range":["#2E9A2E","#4A78C8","#A8466E","#8A8A2E"]},"legend":null},"stroke":{"field":"g","type":"nominal","scale":{"domain":["o","g1","s","g2"],"range":["#2E9A2E","#4A78C8","#A8466E","#8A8A2E"]},"legend":null}}},
    {"data":{"name":"gates"},"transform":[{"filter":"datum.p=='G'"}],"mark":{"type":"rule","strokeWidth":2},"encoding":{"x":{"field":"a","type":"quantitative"},"x2":{"field":"b"},"y":{"field":"y","type":"quantitative"},"color":{"field":"g","type":"nominal"}}},
    {"data":{"name":"gates"},"transform":[{"filter":"datum.p=='G'"}],"mark":{"type":"tick","orient":"vertical","size":13,"thickness":2},"encoding":{"x":{"field":"a","type":"quantitative"},"y":{"field":"y","type":"quantitative"},"color":{"field":"g","type":"nominal"}}},
    {"data":{"name":"gates"},"transform":[{"filter":"datum.p=='G'"}],"mark":{"type":"tick","orient":"vertical","size":13,"thickness":2},"encoding":{"x":{"field":"b","type":"quantitative"},"y":{"field":"y","type":"quantitative"},"color":{"field":"g","type":"nominal"}}},
    {"data":{"name":"labels"},"transform":[{"filter":"datum.p=='G'"}],"mark":{"type":"text","align":"right","fontSize":6.5,"color":"#222"},"encoding":{"x":{"field":"x","type":"quantitative"},"y":{"field":"y","type":"quantitative"},"text":{"field":"t"}}},
    {"data":{"name":"ylab"},"mark":{"type":"text","angle":270,"align":"center","baseline":"bottom","dy":-5,"fontSize":7,"color":"#333"},"encoding":{"x":{"datum":0,"type":"quantitative"},"y":{"field":"v","type":"quantitative"},"text":{"field":"v","type":"quantitative"}}}
   ]}
  ],"bounds":"flush","spacing":63}
 ],"bounds":"flush","spacing":115}
],"bounds":"flush","spacing":52},
{"width":574,"height":2,"view":{"stroke":null},"layer":[
 {"data":{"values":[{"x":0,"x2":1,"y":1}]},"mark":{"type":"rule","color":"#333","strokeWidth":1},"encoding":{"x":{"field":"x","type":"quantitative","scale":{"domain":[0,1]},"axis":null},"x2":{"field":"x2"},"y":{"field":"y","type":"quantitative","scale":{"domain":[0,1]},"axis":null}}},
 {"data":{"values":[{"x":1,"y":1}]},"mark":{"type":"point","shape":"M -1.5 -1 L 0 0 L -1.5 1","filled":false,"size":49,"color":"#333","strokeWidth":1,"opacity":1},"encoding":{"x":{"field":"x","type":"quantitative"},"y":{"field":"y","type":"quantitative"}}}
]}
],
"bounds":"flush","spacing":345
}
